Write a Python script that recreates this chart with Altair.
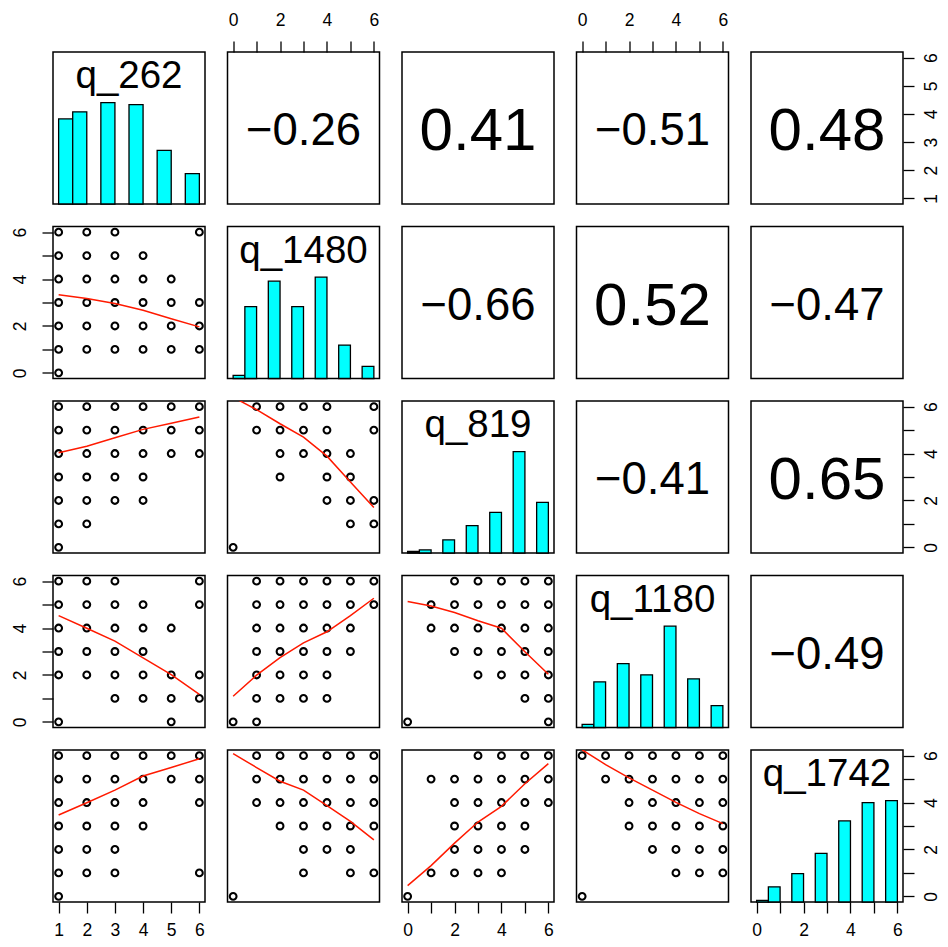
import altair as alt
import pandas as pd

FONT = "Liberation Sans"

names = ["q_262", "q_1480", "q_819", "q_1180", "q_1742"]
levels_q262 = [1, 2, 3, 4, 5, 6]
levels_other = [0, 1, 2, 3, 4, 5, 6]

# relative histogram heights (tallest bar = 1), one per observed level
hist_q262 = [0.84, 0.91, 1.00, 0.98, 0.53, 0.30]
hist_q1480 = [0.03, 0.71, 0.96, 0.71, 1.00, 0.33, 0.12]
hist_q819 = [0.015, 0.03, 0.13, 0.27, 0.40, 1.00, 0.50]
hist_q1180 = [0.03, 0.45, 0.63, 0.52, 1.00, 0.48, 0.215]
hist_q1742 = [0.017, 0.15, 0.28, 0.48, 0.80, 0.98, 1.00]

# correlations, upper triangle read row by row
corr_values = [-0.26, 0.41, -0.51, 0.48, -0.66, 0.52, -0.47, -0.41, 0.65, -0.49]

# scatter cells present: {y value: [x values]}  (x = column variable, y = row variable)
pts_q1480_q262 = {6: [1, 2, 3, 6], 5: [1, 2, 3, 4], 4: [1, 2, 3, 4, 5], 3: [1, 2, 3, 4, 5, 6],
                  2: [1, 2, 3, 4, 5, 6], 1: [1, 2, 3, 4, 5, 6], 0: [1]}
pts_q819_q262 = {6: [1, 2, 3, 4, 5, 6], 5: [1, 2, 3, 4, 5, 6], 4: [1, 2, 3, 4, 5, 6], 3: [1, 2, 3, 4],
                 2: [1, 2, 3, 4], 1: [1, 2], 0: [1]}
pts_q819_q1480 = {6: [1, 2, 3, 4, 6], 5: [1, 2, 3, 4, 6], 4: [2, 3, 4, 5], 3: [2, 4, 5],
                  2: [4, 5, 6], 1: [5, 6], 0: [0]}
pts_q1180_q262 = {6: [1, 2, 3, 6], 5: [1, 2, 3, 4, 6], 4: [1, 2, 3, 4, 5], 3: [1, 2, 3, 4],
                  2: [1, 2, 3, 4, 5, 6], 1: [3, 4, 5, 6], 0: [1, 5]}
pts_q1180_q1480 = {6: [1, 2, 3, 4, 5, 6], 5: [1, 2, 3, 4, 5, 6], 4: [1, 2, 3, 4, 5], 3: [1, 2, 3, 4, 5],
                   2: [1, 2, 3, 4], 1: [1, 2, 3, 4], 0: [0, 1]}
pts_q1180_q819 = {6: [2, 3, 4, 5, 6], 5: [1, 2, 3, 4, 5, 6], 4: [1, 2, 3, 4, 5, 6], 3: [2, 3, 4, 5, 6],
                  2: [3, 4, 5, 6], 1: [5, 6], 0: [0, 6]}
pts_q1742_q262 = {6: [1, 2, 3, 4, 5, 6], 5: [1, 2, 3, 4, 5, 6], 4: [1, 2, 3, 4, 6], 3: [1, 2, 3, 4],
                  2: [1, 2, 3], 1: [1, 2, 3, 6], 0: [1]}
pts_q1742_q1480 = {6: [1, 2, 3, 4, 5, 6], 5: [1, 2, 3, 4, 5, 6], 4: [1, 2, 3, 4, 5, 6], 3: [2, 3, 4, 5, 6],
                   2: [3, 4, 5], 1: [3, 5, 6], 0: [0]}
pts_q1742_q819 = {6: [3, 4, 5, 6], 5: [1, 2, 3, 4, 5, 6], 4: [2, 3, 4, 5, 6], 3: [2, 3, 4, 5],
                  2: [2, 3, 4, 5], 1: [1, 2, 3, 4], 0: [0]}
pts_q1742_q1180 = {6: [0, 1, 2, 3, 4, 5, 6], 5: [1, 2, 3, 4, 5, 6], 4: [2, 3, 4, 5, 6], 3: [2, 3, 4, 5, 6],
                   2: [3, 4, 5, 6], 1: [4, 5, 6], 0: [0]}

# smoothed (loess) line: y at each x level of the column variable
loess_q1480_q262 = [3.33, 3.17, 2.96, 2.67, 2.31, 1.96]
loess_q819_q262 = [4.03, 4.31, 4.67, 5.03, 5.29, 5.56]
loess_q819_q1480 = [6.40, 5.87, 5.27, 4.70, 3.89, 2.79, 1.70]
loess_q1180_q262 = [4.53, 3.99, 3.44, 2.73, 2.01, 1.17]
loess_q1180_q1480 = [1.09, 1.99, 2.74, 3.37, 3.84, 4.53, 5.27]
loess_q1180_q819 = [5.13, 4.94, 4.66, 4.31, 3.99, 2.99, 2.03]
loess_q1742_q262 = [3.47, 3.99, 4.53, 5.13, 5.49, 5.87]
loess_q1742_q1480 = [6.09, 5.49, 4.91, 4.53, 3.87, 3.20, 2.41]
loess_q1742_q819 = [0.46, 1.31, 2.27, 3.17, 3.84, 4.80, 5.66]
loess_q1742_q1180 = [6.25, 5.62, 5.05, 4.53, 4.01, 3.53, 3.10]

hists = {"q_262": hist_q262, "q_1480": hist_q1480, "q_819": hist_q819,
         "q_1180": hist_q1180, "q_1742": hist_q1742}
scatter = {
    (1, 0): (pts_q1480_q262, loess_q1480_q262),
    (2, 0): (pts_q819_q262, loess_q819_q262),
    (2, 1): (pts_q819_q1480, loess_q819_q1480),
    (3, 0): (pts_q1180_q262, loess_q1180_q262),
    (3, 1): (pts_q1180_q1480, loess_q1180_q1480),
    (3, 2): (pts_q1180_q819, loess_q1180_q819),
    (4, 0): (pts_q1742_q262, loess_q1742_q262),
    (4, 1): (pts_q1742_q1480, loess_q1742_q1480),
    (4, 2): (pts_q1742_q819, loess_q1742_q819),
    (4, 3): (pts_q1742_q1180, loess_q1742_q1180),
}

N = len(names)
W = H = 152
GAP = 22.5
TICK_FS = 17.5


def lv(v):
    return levels_q262 if v == "q_262" else levels_other


def dom(v):
    l = lv(v)
    r = l[-1] - l[0]
    return [l[0] - 0.04 * r, l[-1] + 0.04 * r]


def center(v):
    d = dom(v)
    return (d[0] + d[1]) / 2


def make_axis(var, orient):
    kw = dict(orient=orient, values=lv(var), title=None, domain=False, grid=False, ticks=True,
              tickSize=11, tickWidth=1.3, tickColor="black", labelFont=FONT, labelFontSize=TICK_FS,
              labelColor="black", labelOverlap=False, labelFlush=False, format="d")
    if var != "q_262":
        kw["labelExpr"] = "datum.value % 2 === 0 ? datum.label : ''"
    if orient == "top":
        kw.update(labelPadding=12)
    elif orient == "bottom":
        kw.update(labelPadding=8)
    elif orient == "left":
        kw.update(labelAngle=270, labelAlign="center", labelBaseline="bottom", labelPadding=13)
    else:
        kw.update(labelAngle=270, labelAlign="center", labelBaseline="top", labelPadding=8)
    return alt.Axis(**kw)


def axes_for(i, j):
    top = i == 0 and j % 2 == 1
    bottom = i == N - 1 and j % 2 == 0
    left = j == 0 and i % 2 == 1
    right = j == N - 1 and i % 2 == 0
    xo = "top" if top else ("bottom" if bottom else None)
    yo = "left" if left else ("right" if right else None)
    return xo, yo


def x_enc(var, orient, field="x"):
    return alt.X(f"{field}:Q", scale=alt.Scale(domain=dom(var), nice=False, zero=False),
                 axis=make_axis(var, orient) if orient else None)


def y_enc(var, orient, field="y"):
    return alt.Y(f"{field}:Q", scale=alt.Scale(domain=dom(var), nice=False, zero=False),
                 axis=make_axis(var, orient) if orient else None)


def corr_text(r):
    s = f"{abs(r):.2f}"
    return ("\u2212" + s) if r < 0 else s


panels = []
ci = 0
corr_map = {}
for i in range(N):
    for j in range(i + 1, N):
        corr_map[(i, j)] = corr_values[ci]
        ci += 1

for i in range(N):
    for j in range(N):
        xv, yv = names[j], names[i]
        xo, yo = axes_for(i, j)
        if i == j:
            levs = lv(xv)
            hs = hists[xv]
            rows = []
            for k, (lev, h) in enumerate(zip(levs, hs)):
                x1, x2 = (lev, lev + 0.5) if k == 0 else (lev - 0.5, lev)
                rows.append({"x": x1, "x2": x2, "h": h, "h0": 0})
            hdf = pd.DataFrame(rows)
            bars = alt.Chart(hdf).mark_rect(fill="#00FFFF", stroke="black", strokeWidth=1.3).encode(
                x=x_enc(xv, xo), x2="x2:Q",
                y=alt.Y("h:Q", scale=alt.Scale(domain=[0, 1.5], nice=False, zero=True), axis=None),
                y2="h0:Q")
            lab = alt.Chart(pd.DataFrame({"x": [center(xv)], "t": [xv]})).mark_text(
                font=FONT, fontSize=38.5, color="black", align="center", baseline="alphabetic").encode(
                x=x_enc(xv, xo), y=alt.value(36), text="t:N")
            layers = [bars, lab]
            if yo:
                ghost = alt.Chart(pd.DataFrame({"x": [center(xv)] * len(levs), "y": levs})).mark_point(
                    opacity=0).encode(x=x_enc(xv, xo), y=y_enc(yv, yo))
                layers.append(ghost)
                p = alt.layer(*layers).resolve_scale(y="independent")
            else:
                p = alt.layer(*layers)
        elif i > j:
            pd_pts, loess = scatter[(i, j)]
            prow = [{"x": x, "y": y} for y, xs in pd_pts.items() for x in xs]
            ldf = pd.DataFrame({"x": lv(xv), "y": loess})
            pts = alt.Chart(pd.DataFrame(prow)).mark_point(
                shape="circle", filled=False, color="black", opacity=1, size=46, strokeWidth=2.1).encode(
                x=x_enc(xv, xo), y=y_enc(yv, yo))
            line = alt.Chart(ldf).mark_line(color="#ff1a00", strokeWidth=1.5, clip=True).encode(
                x=x_enc(xv, xo), y=y_enc(yv, yo))
            p = alt.layer(pts, line)
        else:
            r = corr_map[(i, j)]
            fs = 45.5 if r < 0 else 60
            tdf = pd.DataFrame({"x": [center(xv)], "y": [center(yv)], "t": [corr_text(r)]})
            p = alt.Chart(tdf).mark_text(font=FONT, fontSize=fs, color="black", align="center",
                                         baseline="middle", dy=round(0.058 * fs + 0.7)).encode(
                x=x_enc(xv, xo), y=y_enc(yv, yo), text="t:N")
        panels.append(p.properties(width=W, height=H))

# svg kept at 932 x 931 so that it fits the page's content box without being shrunk
chart = alt.concat(*panels, columns=N, spacing=GAP, bounds="flush").configure_view(
    stroke="black", strokeWidth=1.5).configure_axis(
    labelFontSize=TICK_FS, labelFont=FONT, tickSize=11).properties(
    background="white",
    autosize=alt.AutoSizeParams(type="none"),
    padding={"left": 45, "top": 44, "right": 887, "bottom": 887})

chart.save("out.html", embed_options={"renderer": "svg", "actions": False})
